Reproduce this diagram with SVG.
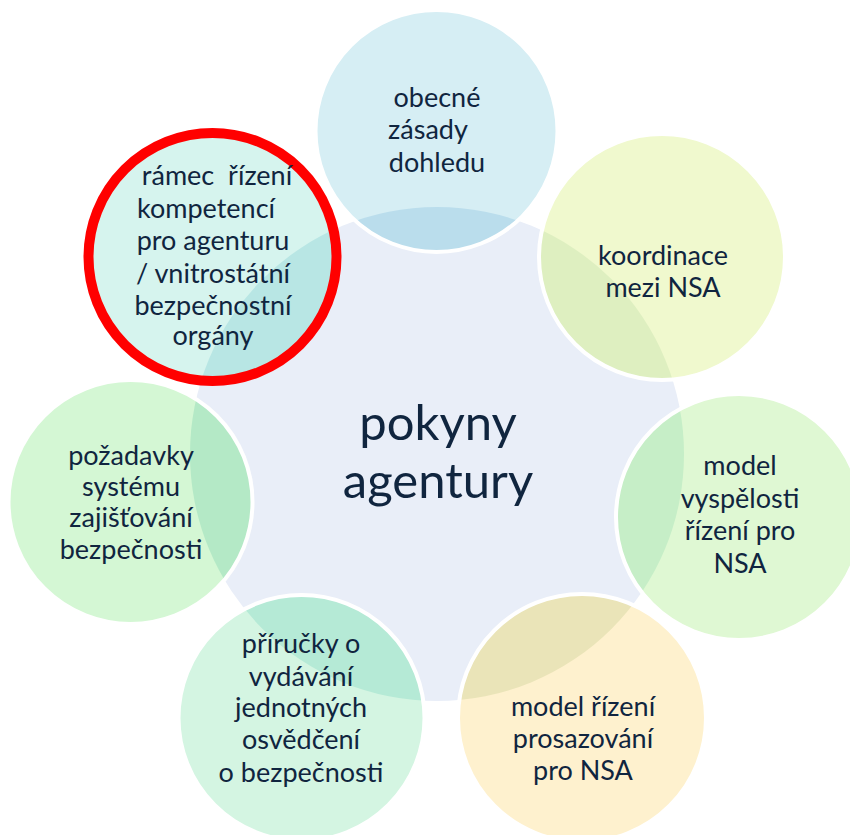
<svg xmlns="http://www.w3.org/2000/svg" width="850" height="835" viewBox="0 0 850 835">
<style>
  text { font-family: Lato, "Liberation Sans", sans-serif; fill: #10253F; text-anchor: middle; }
  .lbl { font-size: 27px; }
  .center-lbl { font-size: 49px; }
  .ring { fill: none; stroke: #FFFFFF; stroke-width: 4; }
  .red { fill: none; stroke: #FF0000; stroke-width: 10; }
</style>
<defs>
  <clipPath id="cc"><circle cx="437" cy="454" r="247"/></clipPath>
</defs>
<rect x="0" y="0" width="850" height="835" fill="#FFFFFF"/>
<g id="center">
  <circle cx="437" cy="454" r="247" fill="#E9EEF8"/>
</g>
<g id="connectors"></g>
<g id="obecne">
  <circle cx="436.5" cy="131" r="121" fill="#D6EEF4"/>
  <circle cx="436.5" cy="131" r="121" fill="#BADDEC" clip-path="url(#cc)"/>
  <circle cx="436.5" cy="131" r="121" class="ring"/>
  <text class="lbl" x="437" y="107">obecné</text>
  <text class="lbl" x="428" y="139">zásady</text>
  <text class="lbl" x="437" y="172">dohledu</text>
</g>
<g id="koordinace">
  <circle cx="662" cy="257" r="123" fill="#F0F9CE"/>
  <circle cx="662" cy="257" r="123" fill="#DEEFC0" clip-path="url(#cc)"/>
  <circle cx="662" cy="257" r="123" class="ring"/>
  <text class="lbl" x="663" y="265">koordinace</text>
  <text class="lbl" x="663" y="297">mezi NSA</text>
</g>
<g id="vyspelost">
  <circle cx="739" cy="517" r="123" fill="#DFF8D3"/>
  <circle cx="739" cy="517" r="123" fill="#C6EEC7" clip-path="url(#cc)"/>
  <circle cx="739" cy="517" r="123" class="ring"/>
  <text class="lbl" x="740" y="475">model</text>
  <text class="lbl" x="740" y="508">vyspělosti</text>
  <text class="lbl" x="740" y="540">řízení pro</text>
  <text class="lbl" x="740" y="573">NSA</text>
</g>
<g id="prosazovani">
  <circle cx="582" cy="718" r="124" fill="#FEF1CE"/>
  <circle cx="582" cy="718" r="124" fill="#EAE4B8" clip-path="url(#cc)"/>
  <circle cx="582" cy="718" r="124" class="ring"/>
  <text class="lbl" x="583" y="716">model řízení</text>
  <text class="lbl" x="583" y="748">prosazování</text>
  <text class="lbl" x="583" y="780">pro NSA</text>
</g>
<g id="prirucky">
  <circle cx="301.5" cy="718" r="123" fill="#D4F5E2"/>
  <circle cx="301.5" cy="718" r="123" fill="#B5EAD6" clip-path="url(#cc)"/>
  <circle cx="301.5" cy="718" r="123" class="ring"/>
  <text class="lbl" x="301" y="653">příručky o</text>
  <text class="lbl" x="301" y="686">vydávání</text>
  <text class="lbl" x="301" y="717">jednotných</text>
  <text class="lbl" x="301" y="749">osvědčení</text>
  <text class="lbl" x="301" y="782">o bezpečnosti</text>
</g>
<g id="pozadavky">
  <circle cx="130.5" cy="502" r="122" fill="#D4F7D4"/>
  <circle cx="130.5" cy="502" r="122" fill="#B4E9C6" clip-path="url(#cc)"/>
  <circle cx="130.5" cy="502" r="122" class="ring"/>
  <text class="lbl" x="131" y="465">požadavky</text>
  <text class="lbl" x="131" y="496">systému</text>
  <text class="lbl" x="131" y="527">zajišťování</text>
  <text class="lbl" x="131" y="559">bezpečnosti</text>
</g>
<g id="ramec">
  <circle cx="212.5" cy="257" r="124" fill="#D6F4EE"/>
  <circle cx="212.5" cy="257" r="124" fill="#B8E6E4" clip-path="url(#cc)"/>
  <circle cx="212.5" cy="257" r="124" class="red"/>
  <text class="lbl" x="217" y="185" xml:space="preserve">rámec  řízení</text>
  <text class="lbl" x="206" y="218">kompetencí</text>
  <text class="lbl" x="213" y="250">pro agenturu</text>
  <text class="lbl" x="213" y="283">/ vnitrostátní</text>
  <text class="lbl" x="213" y="315">bezpečnostní</text>
  <text class="lbl" x="213" y="345">orgány</text>
</g>
<g id="pokyny">
  <text class="center-lbl" x="438" y="440">pokyny</text>
  <text class="center-lbl" x="438" y="498">agentury</text>
</g>
</svg>
